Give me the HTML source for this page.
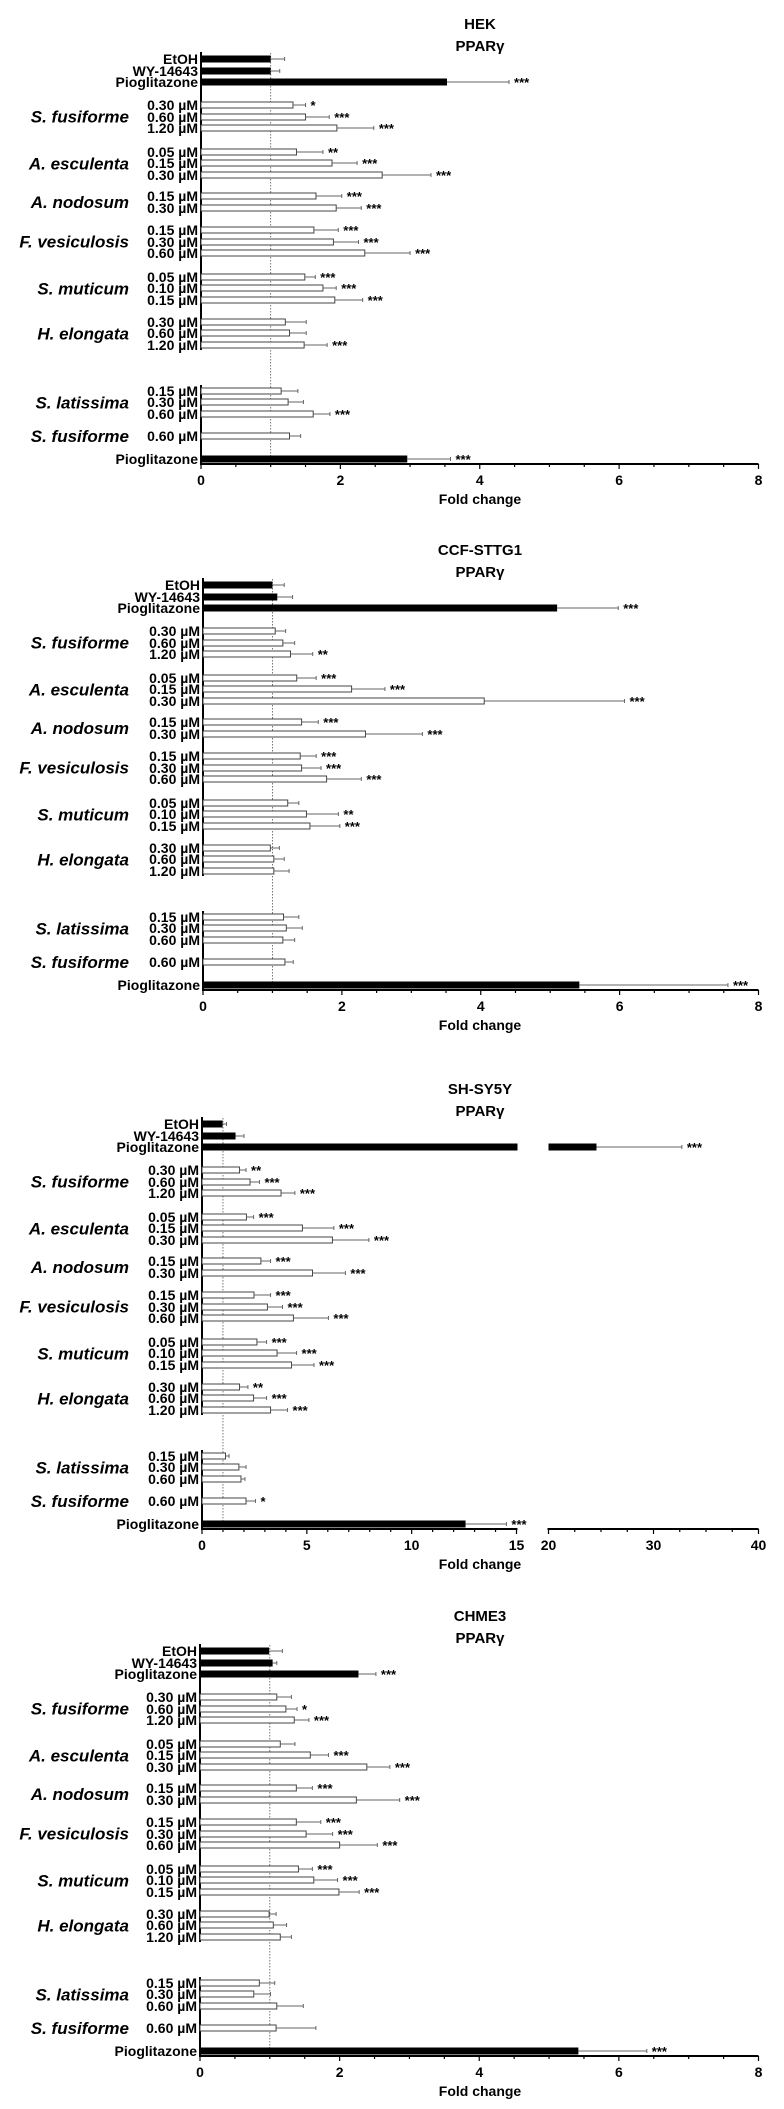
<!DOCTYPE html>
<html><head><meta charset="utf-8">
<style>
html,body{margin:0;padding:0;background:#fff;}
svg{display:block;font-family:"Liberation Sans",Arial,sans-serif;}
</style></head>
<body>
<svg id="chart" width="784" height="2109" viewBox="0 0 784 2109" xmlns="http://www.w3.org/2000/svg"></svg>
<script>
// ---- data ----
const rowLabels = ["EtOH","WY-14643","Pioglitazone",
 "0.30 µM","0.60 µM","1.20 µM",
 "0.05 µM","0.15 µM","0.30 µM",
 "0.15 µM","0.30 µM",
 "0.15 µM","0.30 µM","0.60 µM",
 "0.05 µM","0.10 µM","0.15 µM",
 "0.30 µM","0.60 µM","1.20 µM",
 "0.15 µM","0.30 µM","0.60 µM",
 "0.60 µM","Pioglitazone"];
const blackRows = [0,1,2,24];
const speciesNames = ["S. fusiforme","A. esculenta","A. nodosum","F. vesiculosis","S. muticum","H. elongata","S. latissima","S. fusiforme"];
const speciesRowStart = [3,6,9,11,14,17,20,23];
const speciesRowEnd = [5,8,10,13,16,19,22,23];
const panelTitles = ["HEK","CCF-STTG1","SH-SY5Y","CHME3"];

const heMeans = [1.0,1.0,3.53, 1.32,1.5,1.95, 1.37,1.88,2.6, 1.65,1.94, 1.62,1.9,2.35, 1.49,1.75,1.92, 1.21,1.27,1.48, 1.15,1.25,1.61, 1.27,2.96];
const heErrs  = [1.2,1.13,4.42, 1.5,1.84,2.48, 1.75,2.24,3.3, 2.02,2.3, 1.97,2.26,3.0, 1.64,1.94,2.32, 1.51,1.51,1.81, 1.39,1.47,1.85, 1.43,3.58];
const heSig   = ["","","***", "*","***","***", "**","***","***", "***","***", "***","***","***", "***","***","***", "","","***", "","","***", "","***"];

const ccMeans = [1.0,1.07,5.1, 1.04,1.15,1.26, 1.35,2.14,4.05, 1.42,2.34, 1.4,1.42,1.78, 1.22,1.49,1.54, 0.97,1.02,1.02, 1.16,1.2,1.15, 1.18,5.42];
const ccErrs  = [1.17,1.29,5.98, 1.19,1.32,1.58, 1.63,2.62,6.07, 1.66,3.16, 1.63,1.7,2.28, 1.38,1.95,1.97, 1.1,1.17,1.24, 1.38,1.43,1.32, 1.3,7.56];
const ccSig   = ["","","***", "","","**", "***","***","***", "***","***", "***","***","***", "","**","***", "","","", "","","", "","***"];

const shMeans = [0.98,1.6,24.57, 1.79,2.29,3.77, 2.12,4.79,6.22, 2.81,5.27, 2.48,3.12,4.36, 2.62,3.58,4.27, 1.79,2.46,3.27, 1.12,1.76,1.86, 2.1,12.57];
const shErrs  = [1.17,2.0,32.7, 2.1,2.74,4.43, 2.46,6.29,7.96, 3.27,6.84, 3.27,3.84,6.03, 3.08,4.51,5.34, 2.19,3.08,4.08, 1.29,2.1,2.05, 2.55,14.52];
const shSig   = ["","","***", "**","***","***", "***","***","***", "***","***", "***","***","***", "***","***","***", "**","***","***", "","","", "*","***"];

const chMeans = [0.99,1.04,2.27, 1.1,1.23,1.35, 1.15,1.58,2.39, 1.38,2.24, 1.38,1.52,2.0, 1.41,1.63,1.99, 0.99,1.05,1.15, 0.85,0.77,1.1, 1.09,5.42];
const chErrs  = [1.18,1.1,2.52, 1.31,1.39,1.56, 1.36,1.84,2.72, 1.61,2.86, 1.73,1.9,2.54, 1.61,1.97,2.28, 1.09,1.24,1.31, 1.07,1.01,1.48, 1.66,6.4];
const chSig   = ["","","***", "","*","***", "","***","***", "***","***", "***","***","***", "***","***","***", "","","", "","","", "","***"];

const ticksStd = [0,2,4,6,8];
const ticksSH = [0,5,10,15,20,30,40];

// ---- layout ----
const rowOffsets = [0,12,23, 46,58,69, 93,104,116, 137,149, 171,183,194, 218,229,241, 263,274,286, 332,343,355, 377,400];
const NS = "http://www.w3.org/2000/svg";
const svg = document.getElementById('chart');
function mk(tag, attrs, parent){
  const e = document.createElementNS(NS, tag);
  for (const k in attrs) e.setAttribute(k, attrs[k]);
  (parent||svg).appendChild(e);
  return e;
}

const panels = [
 {title:panelTitles[0], top:59, x0:201, means:heMeans, errs:heErrs, sig:heSig, ticks:ticksStd, broken:false},
 {title:panelTitles[1], top:585, x0:203, means:ccMeans, errs:ccErrs, sig:ccSig, ticks:ticksStd, broken:false},
 {title:panelTitles[2], top:1124, x0:202, means:shMeans, errs:shErrs, sig:shSig, ticks:ticksSH, broken:true},
 {title:panelTitles[3], top:1651, x0:200, means:chMeans, errs:chErrs, sig:chSig, ticks:ticksStd, broken:false}
];
const X8 = 758.5;

panels.forEach((p, pi) => {
  const g = mk('g', {});
  
  
  let xs;
  if (!p.broken) {
    const s = (X8 - p.x0) / 8;
    xs = v => p.x0 + v * s;
  } else {
    const s1 = (516.5 - p.x0) / 15, s2 = (758.5 - 548.5) / 20;
    xs = v => v <= 15 ? p.x0 + v * s1 : (v < 20 ? 516.5 : 548.5 + (v - 20) * s2);
  }
  const ry = i => p.top + rowOffsets[i];
  const axisY = p.top + 405;

  // title
  const t1 = mk('text', {x:480, y:p.top-30, 'text-anchor':'middle', 'font-size':15, 'font-weight':'bold'}, g);
  t1.textContent = p.title;
  
  
  const t2 = mk('text', {x:480, y:p.top-8, 'text-anchor':'middle', 'font-size':15, 'font-weight':'bold'}, g);
  t2.textContent = 'PPARγ';
  
  

  // dotted reference line at 1
  const dl = mk('line', {x1:xs(1), x2:xs(1), y1:p.top-6, y2:axisY, stroke:'#555', 'stroke-width':0.8, 'stroke-dasharray':'1.5,1.5'}, g);
  
  

  // y axis segments
  const ya = mk('line', {x1:p.x0, x2:p.x0, y1:p.top-7, y2:ry(19)+5, stroke:'#000', 'stroke-width':2}, g);
  
  
  const yb = mk('line', {x1:p.x0, x2:p.x0, y1:ry(20)-6, y2:axisY, stroke:'#000', 'stroke-width':2}, g);
  
  

  // bars
  for (let i = 0; i < rowLabels.length; i++) {
    const y = ry(i), m = p.means[i], e = p.errs[i];
    const black = blackRows.includes(i);
    if (p.broken && m > 20) {
      const b1 = mk('rect', {x:p.x0, y:y-3.5, width:517.5-p.x0, height:7, fill:'#000'}, g);
      
      
      const b2 = mk('rect', {x:548.5, y:y-3.5, width:xs(m)-548.5, height:7, fill:'#000'}, g);
      
      
    } else {
      const b = mk('rect', black
        ? {x:p.x0, y:y-3.5, width:xs(m)-p.x0, height:7, fill:'#000'}
        : {x:p.x0, y:y-3, width:xs(m)-p.x0, height:6, fill:'#fff', stroke:'#444', 'stroke-width':1}, g);
      
      
    }
    const el = mk('line', {x1:xs(m), x2:xs(e), y1:y, y2:y, stroke:'#666', 'stroke-width':1}, g);
    
    
    const ec = mk('line', {x1:xs(e), x2:xs(e), y1:y-2, y2:y+2, stroke:'#666', 'stroke-width':1}, g);
    
    
    if (p.sig[i]) {
      const st = mk('text', {x:xs(e)+5, y:y+5, 'font-size':13, 'font-weight':'bold'}, g);
      st.textContent = p.sig[i];
      
      
    }
    const lb = mk('text', {x:p.x0-3, y:y+5, 'text-anchor':'end', 'font-size':14, 'font-weight':'bold'}, g);
    lb.textContent = rowLabels[i];
    
    
  }

  // species labels
  speciesNames.forEach((nm, si) => {
    const yc = (ry(speciesRowStart[si]) + ry(speciesRowEnd[si])) / 2;
    const sl = mk('text', {x:129, y:yc+6, 'text-anchor':'end', 'font-size':17, 'font-weight':'bold', 'font-style':'italic'}, g);
    sl.textContent = nm;
    
    
  });

  // x axis
  const segs = p.broken ? [[0,15,1,5],[20,40,2.5,10]] : [[0,8,0.5,2]];
  segs.forEach(sg => {
    const xa = mk('line', {x1:xs(sg[0])-1, x2:xs(sg[1])+(p.broken&&sg[1]==15?1:0), y1:axisY, y2:axisY, stroke:'#000', 'stroke-width':2}, g);
    
    
    for (let v = sg[0]; v <= sg[1] + 1e-9; v += sg[2]) {
      const major = Math.abs(v / sg[3] - Math.round(v / sg[3])) < 1e-6;
      const tk = mk('line', {x1:xs(v), x2:xs(v), y1:axisY, y2:axisY + (major ? 5 : 3), stroke:'#000', 'stroke-width':1.2}, g);
      
      
    }
  });
  p.ticks.forEach(v => {
    const tl = mk('text', {x:xs(v), y:axisY+21, 'text-anchor':'middle', 'font-size':14, 'font-weight':'bold'}, g);
    tl.textContent = String(v);
    
    
  });
  const xt = mk('text', {x:480, y:axisY+40, 'text-anchor':'middle', 'font-size':14, 'font-weight':'bold'}, g);
  xt.textContent = 'Fold change';
  
  
});
</script>
</body></html>
